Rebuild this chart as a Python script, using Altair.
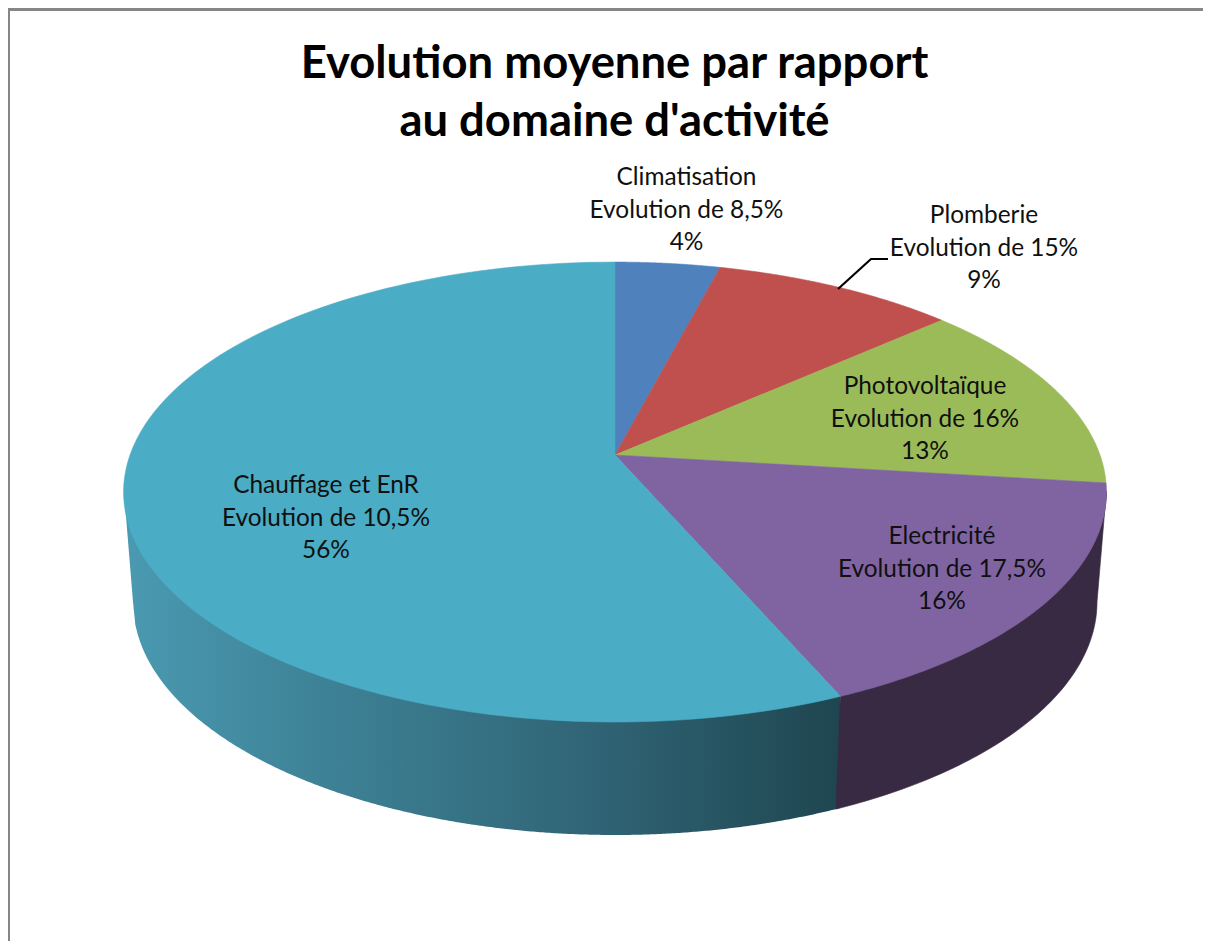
import numpy as np
import pandas as pd
import altair as alt

# ---- chart values ----
categories = ["Climatisation", "Plomberie", "Photovoltaïque", "Electricité", "Chauffage et EnR"]
shares = [4.03, 9.37, 13.55, 16.57, 56.48]
colors = ["#4F81BD", "#C0504D", "#9BBB59", "#8064A2", "#4BACC6"]
evolution = ["Evolution de 8,5%", "Evolution de 15%", "Evolution de 16%", "Evolution de 17,5%", "Evolution de 10,5%"]
pct_labels = ["4%", "9%", "13%", "16%", "56%"]
title_lines = ["Evolution moyenne par rapport", "au domaine d'activité"]

# ---- layout (page pixels) ----
W, H = 1195, 933
OX, OY = 8, 8
CX, CY = 615.0, 455.0           # pie apex
A, B, K = 485.0, 224.0, 0.161   # perspective disc
LOW_CY, LOW_A, LOW_B = 602.0, 482.0, 233.0  # lower rim
TOP_CY = 492.0
TOP_A = 491.0
TOP_B = 230.0
label_xy = [(686.5, 178), (984, 216), (925, 387), (942, 537), (326, 486)]
LINE_STEP = 32.5

x_scale = alt.Scale(domain=[OX, OX + W], range=[0, W], nice=False, zero=False)
y_scale = alt.Scale(domain=[OY + H, OY], range=[H, 0], nice=False, zero=False)
X = lambda f="x": alt.X(f"{f}:Q", scale=x_scale, axis=None)
Y = lambda f="y": alt.Y(f"{f}:Q", scale=y_scale, axis=None)


def project(theta):
    w = 1 + K * np.cos(theta)
    return CX + A * np.sin(theta) / w, CY - B * np.cos(theta) / w


def poly_layer(xs, ys, color):
    d = pd.DataFrame({"x": xs, "y": ys, "i": np.arange(len(xs))})
    return alt.Chart(d).mark_line(fill=color, stroke=color, strokeWidth=0.6, interpolate="linear-closed").encode(
        x=X(), y=Y(), order="i:Q")


layers = []

# chart border
border_color = "#868686"
layers.append(alt.Chart(pd.DataFrame({"x": [8.5], "y": [8.0], "y2": [941.0]})).mark_rule(color=border_color, strokeWidth=3).encode(
    x=X(), y=Y(), y2="y2:Q"))
layers.append(alt.Chart(pd.DataFrame({"x": [7.0], "x2": [1203.0], "y": [9.5]})).mark_rule(color=border_color, strokeWidth=3).encode(
    x=X(), x2="x2:Q", y=Y()))

# side wall: teal part with horizontal gradient
edges = 2 * np.pi * np.cumsum([0] + shares) / sum(shares)
split_x, split_y = project(edges[4])
xs = np.concatenate([np.linspace(CX - TOP_A, CX - LOW_A, 6)[:-1], np.linspace(CX - LOW_A, split_x, 300)])
low_y = np.where(
    xs < CX - LOW_A,
    TOP_CY + (xs - (CX - TOP_A)) / (TOP_A - LOW_A) * (LOW_CY - TOP_CY),
    LOW_CY + LOW_B * np.sqrt(np.clip(1 - ((xs - CX) / LOW_A) ** 2, 0, 1)),
)
top_y = TOP_CY + TOP_B * np.sqrt(np.clip(1 - ((xs - CX) / TOP_A) ** 2, 0, 1))
wall = pd.DataFrame({"x": xs, "y": top_y - 3, "y2": low_y})
gradient = alt.LinearGradient(
    gradient="linear", x1=0, y1=0, x2=1, y2=0,
    stops=[
        alt.GradientStop(offset=0.0, color="#4A9AB1"),
        alt.GradientStop(offset=0.25, color="#3F8499"),
        alt.GradientStop(offset=0.67, color="#2F6374"),
        alt.GradientStop(offset=1.0, color="#1F4650"),
    ],
)
layers.append(alt.Chart(wall).mark_area(fill=gradient, stroke=None).encode(x=X(), y=Y(), y2="y2:Q"))

# side wall: dark purple part
t_rim = np.linspace(edges[4], np.arccos(-K), 80)
rim_x, rim_y = project(t_rim)
phi_end = np.arccos((836 - CX) / LOW_A)
phi = np.linspace(0, phi_end, 80)
low_x = CX + LOW_A * np.cos(phi)
low_yy = LOW_CY + LOW_B * np.sin(phi)
layers.append(poly_layer(np.concatenate([rim_x, low_x]), np.concatenate([rim_y - 1, low_yy]), "#372A42"))

# top faces
for k, c in enumerate(colors):
    t = np.linspace(edges[k], edges[k + 1], 120)
    px, py = project(t)
    layers.append(poly_layer(np.concatenate([[CX], px]), np.concatenate([[CY], py]), c))

# leader line of Plomberie
layers.append(alt.Chart(pd.DataFrame({"x": [838, 871, 888], "y": [289, 259, 259], "i": [0, 1, 2]})).mark_line(
    color="#000000", strokeWidth=2.2).encode(x=X(), y=Y(), order="i:Q"))

# data labels
rows = []
for k, cat in enumerate(categories):
    lx, ly = label_xy[k]
    for j, txt in enumerate([cat, evolution[k], pct_labels[k]]):
        rows.append({"x": lx, "y": ly + j * LINE_STEP, "t": txt})
layers.append(alt.Chart(pd.DataFrame(rows)).mark_text(
    font="Lato", fontSize=24.4, color="#101010", align="center", baseline="middle").encode(
    x=X(), y=Y(), text="t:N"))

# title
layers.append(alt.Chart(pd.DataFrame({"x": [614.5, 614.5], "y": [63.5, 121.5], "t": title_lines})).mark_text(
    font="Lato", fontSize=45.4, fontWeight="bold", color="#000000", align="center", baseline="middle").encode(
    x=X(), y=Y(), text="t:N"))

chart = alt.layer(*layers).properties(
    width=W, height=H, padding=0, background="#FFFFFF",
    autosize=alt.AutoSizeParams(type="none"),
).configure_view(stroke=None, clip=False)

chart.save("out.html", embed_options={"renderer": "svg", "actions": False})
